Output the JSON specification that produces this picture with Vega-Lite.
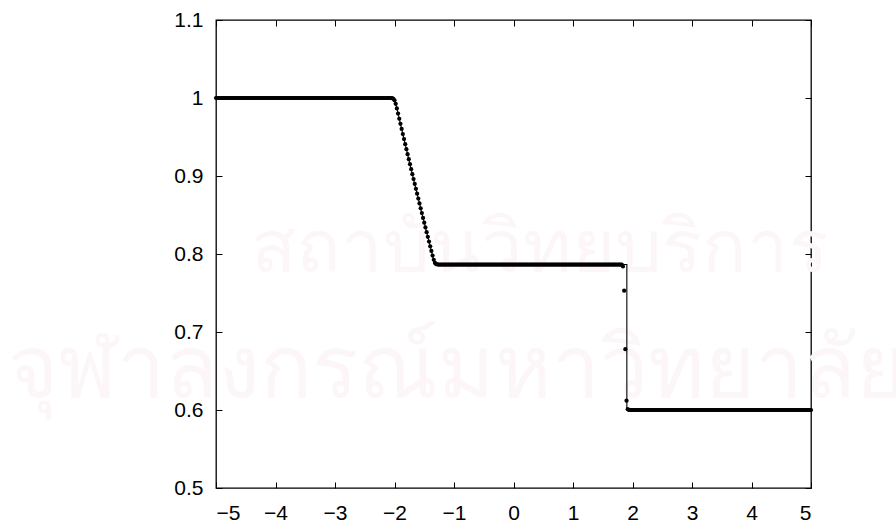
{
"$schema":"https://vega.github.io/schema/vega-lite/v6.json",
"width":595,"height":468,
"autosize":{"type":"none"},
"padding":{"left":216,"top":20,"right":85,"bottom":40},
"background":"white",
"config":{"view":{"stroke":"black","strokeWidth":1.3},
"axis":{"domain":false,"grid":false,"tickColor":"black","tickWidth":1,"tickSize":-6,"labelFont":"Liberation Sans","labelFontSize":21,"labelColor":"black","title":null}},
"datasets":{
"exact":[{"i":0,"x":-5,"y":1},{"i":1,"x":-2,"y":1},{"i":2,"x":-1.9,"y":0.9669},{"i":3,"x":-1.8,"y":0.9344},{"i":4,"x":-1.7,"y":0.9024},{"i":5,"x":-1.6,"y":0.871},{"i":6,"x":-1.5,"y":0.8402},{"i":7,"x":-1.4,"y":0.8099},{"i":8,"x":-1.322,"y":0.7865},{"i":9,"x":1.905,"y":0.7865},{"i":10,"x":1.905,"y":0.6},{"i":11,"x":5,"y":0.6}],
"num":[
{"x":-5,"y":1},{"x":-4.98,"y":1},{"x":-4.96,"y":1},{"x":-4.94,"y":1},{"x":-4.92,"y":1},{"x":-4.9,"y":1},{"x":-4.88,"y":1},{"x":-4.86,"y":1},{"x":-4.84,"y":1},{"x":-4.82,"y":1},
{"x":-4.8,"y":1},{"x":-4.78,"y":1},{"x":-4.76,"y":1},{"x":-4.74,"y":1},{"x":-4.72,"y":1},{"x":-4.7,"y":1},{"x":-4.68,"y":1},{"x":-4.66,"y":1},{"x":-4.64,"y":1},{"x":-4.62,"y":1},
{"x":-4.6,"y":1},{"x":-4.58,"y":1},{"x":-4.56,"y":1},{"x":-4.54,"y":1},{"x":-4.52,"y":1},{"x":-4.5,"y":1},{"x":-4.48,"y":1},{"x":-4.46,"y":1},{"x":-4.44,"y":1},{"x":-4.42,"y":1},
{"x":-4.4,"y":1},{"x":-4.38,"y":1},{"x":-4.36,"y":1},{"x":-4.34,"y":1},{"x":-4.32,"y":1},{"x":-4.3,"y":1},{"x":-4.28,"y":1},{"x":-4.26,"y":1},{"x":-4.24,"y":1},{"x":-4.22,"y":1},
{"x":-4.2,"y":1},{"x":-4.18,"y":1},{"x":-4.16,"y":1},{"x":-4.14,"y":1},{"x":-4.12,"y":1},{"x":-4.1,"y":1},{"x":-4.08,"y":1},{"x":-4.06,"y":1},{"x":-4.04,"y":1},{"x":-4.02,"y":1},
{"x":-4,"y":1},{"x":-3.98,"y":1},{"x":-3.96,"y":1},{"x":-3.94,"y":1},{"x":-3.92,"y":1},{"x":-3.9,"y":1},{"x":-3.88,"y":1},{"x":-3.86,"y":1},{"x":-3.84,"y":1},{"x":-3.82,"y":1},
{"x":-3.8,"y":1},{"x":-3.78,"y":1},{"x":-3.76,"y":1},{"x":-3.74,"y":1},{"x":-3.72,"y":1},{"x":-3.7,"y":1},{"x":-3.68,"y":1},{"x":-3.66,"y":1},{"x":-3.64,"y":1},{"x":-3.62,"y":1},
{"x":-3.6,"y":1},{"x":-3.58,"y":1},{"x":-3.56,"y":1},{"x":-3.54,"y":1},{"x":-3.52,"y":1},{"x":-3.5,"y":1},{"x":-3.48,"y":1},{"x":-3.46,"y":1},{"x":-3.44,"y":1},{"x":-3.42,"y":1},
{"x":-3.4,"y":1},{"x":-3.38,"y":1},{"x":-3.36,"y":1},{"x":-3.34,"y":1},{"x":-3.32,"y":1},{"x":-3.3,"y":1},{"x":-3.28,"y":1},{"x":-3.26,"y":1},{"x":-3.24,"y":1},{"x":-3.22,"y":1},
{"x":-3.2,"y":1},{"x":-3.18,"y":1},{"x":-3.16,"y":1},{"x":-3.14,"y":1},{"x":-3.12,"y":1},{"x":-3.1,"y":1},{"x":-3.08,"y":1},{"x":-3.06,"y":1},{"x":-3.04,"y":1},{"x":-3.02,"y":1},
{"x":-3,"y":1},{"x":-2.98,"y":1},{"x":-2.96,"y":1},{"x":-2.94,"y":1},{"x":-2.92,"y":1},{"x":-2.9,"y":1},{"x":-2.88,"y":1},{"x":-2.86,"y":1},{"x":-2.84,"y":1},{"x":-2.82,"y":1},
{"x":-2.8,"y":1},{"x":-2.78,"y":1},{"x":-2.76,"y":1},{"x":-2.74,"y":1},{"x":-2.72,"y":1},{"x":-2.7,"y":1},{"x":-2.68,"y":1},{"x":-2.66,"y":1},{"x":-2.64,"y":1},{"x":-2.62,"y":1},
{"x":-2.6,"y":1},{"x":-2.58,"y":1},{"x":-2.56,"y":1},{"x":-2.54,"y":1},{"x":-2.52,"y":1},{"x":-2.5,"y":1},{"x":-2.48,"y":1},{"x":-2.46,"y":1},{"x":-2.44,"y":1},{"x":-2.42,"y":1},
{"x":-2.4,"y":1},{"x":-2.38,"y":1},{"x":-2.36,"y":1},{"x":-2.34,"y":1},{"x":-2.32,"y":1},{"x":-2.3,"y":1},{"x":-2.28,"y":1},{"x":-2.26,"y":1},{"x":-2.24,"y":1},{"x":-2.22,"y":1},
{"x":-2.2,"y":1},{"x":-2.18,"y":1},{"x":-2.16,"y":1},{"x":-2.14,"y":1},{"x":-2.12,"y":1},{"x":-2.1,"y":1},{"x":-2.08,"y":1},{"x":-2.06,"y":1},{"x":-2.04,"y":0.9998},{"x":-2.02,"y":0.999},
{"x":-2,"y":0.997},{"x":-1.98,"y":0.9925},{"x":-1.96,"y":0.9866},{"x":-1.94,"y":0.98},{"x":-1.92,"y":0.9734},{"x":-1.9,"y":0.9669},{"x":-1.88,"y":0.9603},{"x":-1.86,"y":0.9538},{"x":-1.84,"y":0.9473},{"x":-1.82,"y":0.9408},
{"x":-1.8,"y":0.9344},{"x":-1.78,"y":0.9279},{"x":-1.76,"y":0.9215},{"x":-1.74,"y":0.9151},{"x":-1.72,"y":0.9088},{"x":-1.7,"y":0.9024},{"x":-1.68,"y":0.8961},{"x":-1.66,"y":0.8898},{"x":-1.64,"y":0.8835},{"x":-1.62,"y":0.8773},
{"x":-1.6,"y":0.871},{"x":-1.58,"y":0.8648},{"x":-1.56,"y":0.8586},{"x":-1.54,"y":0.8525},{"x":-1.52,"y":0.8463},{"x":-1.5,"y":0.8402},{"x":-1.48,"y":0.8341},{"x":-1.46,"y":0.828},{"x":-1.44,"y":0.822},{"x":-1.42,"y":0.8159},
{"x":-1.4,"y":0.8099},{"x":-1.38,"y":0.8039},{"x":-1.36,"y":0.798},{"x":-1.34,"y":0.7925},{"x":-1.32,"y":0.7885},{"x":-1.3,"y":0.787},{"x":-1.28,"y":0.7866},{"x":-1.26,"y":0.7865},{"x":-1.24,"y":0.7865},{"x":-1.22,"y":0.7865},
{"x":-1.2,"y":0.7865},{"x":-1.18,"y":0.7865},{"x":-1.16,"y":0.7865},{"x":-1.14,"y":0.7865},{"x":-1.12,"y":0.7865},{"x":-1.1,"y":0.7865},{"x":-1.08,"y":0.7865},{"x":-1.06,"y":0.7865},{"x":-1.04,"y":0.7865},{"x":-1.02,"y":0.7865},
{"x":-1,"y":0.7865},{"x":-0.98,"y":0.7865},{"x":-0.96,"y":0.7865},{"x":-0.94,"y":0.7865},{"x":-0.92,"y":0.7865},{"x":-0.9,"y":0.7865},{"x":-0.88,"y":0.7865},{"x":-0.86,"y":0.7865},{"x":-0.84,"y":0.7865},{"x":-0.82,"y":0.7865},
{"x":-0.8,"y":0.7865},{"x":-0.78,"y":0.7865},{"x":-0.76,"y":0.7865},{"x":-0.74,"y":0.7865},{"x":-0.72,"y":0.7865},{"x":-0.7,"y":0.7865},{"x":-0.68,"y":0.7865},{"x":-0.66,"y":0.7865},{"x":-0.64,"y":0.7865},{"x":-0.62,"y":0.7865},
{"x":-0.6,"y":0.7865},{"x":-0.58,"y":0.7865},{"x":-0.56,"y":0.7865},{"x":-0.54,"y":0.7865},{"x":-0.52,"y":0.7865},{"x":-0.5,"y":0.7865},{"x":-0.48,"y":0.7865},{"x":-0.46,"y":0.7865},{"x":-0.44,"y":0.7865},{"x":-0.42,"y":0.7865},
{"x":-0.4,"y":0.7865},{"x":-0.38,"y":0.7865},{"x":-0.36,"y":0.7865},{"x":-0.34,"y":0.7865},{"x":-0.32,"y":0.7865},{"x":-0.3,"y":0.7865},{"x":-0.28,"y":0.7865},{"x":-0.26,"y":0.7865},{"x":-0.24,"y":0.7865},{"x":-0.22,"y":0.7865},
{"x":-0.2,"y":0.7865},{"x":-0.18,"y":0.7865},{"x":-0.16,"y":0.7865},{"x":-0.14,"y":0.7865},{"x":-0.12,"y":0.7865},{"x":-0.1,"y":0.7865},{"x":-0.08,"y":0.7865},{"x":-0.06,"y":0.7865},{"x":-0.04,"y":0.7865},{"x":-0.02,"y":0.7865},
{"x":0,"y":0.7865},{"x":0.02,"y":0.7865},{"x":0.04,"y":0.7865},{"x":0.06,"y":0.7865},{"x":0.08,"y":0.7865},{"x":0.1,"y":0.7865},{"x":0.12,"y":0.7865},{"x":0.14,"y":0.7865},{"x":0.16,"y":0.7865},{"x":0.18,"y":0.7865},
{"x":0.2,"y":0.7865},{"x":0.22,"y":0.7865},{"x":0.24,"y":0.7865},{"x":0.26,"y":0.7865},{"x":0.28,"y":0.7865},{"x":0.3,"y":0.7865},{"x":0.32,"y":0.7865},{"x":0.34,"y":0.7865},{"x":0.36,"y":0.7865},{"x":0.38,"y":0.7865},
{"x":0.4,"y":0.7865},{"x":0.42,"y":0.7865},{"x":0.44,"y":0.7865},{"x":0.46,"y":0.7865},{"x":0.48,"y":0.7865},{"x":0.5,"y":0.7865},{"x":0.52,"y":0.7865},{"x":0.54,"y":0.7865},{"x":0.56,"y":0.7865},{"x":0.58,"y":0.7865},
{"x":0.6,"y":0.7865},{"x":0.62,"y":0.7865},{"x":0.64,"y":0.7865},{"x":0.66,"y":0.7865},{"x":0.68,"y":0.7865},{"x":0.7,"y":0.7865},{"x":0.72,"y":0.7865},{"x":0.74,"y":0.7865},{"x":0.76,"y":0.7865},{"x":0.78,"y":0.7865},
{"x":0.8,"y":0.7865},{"x":0.82,"y":0.7865},{"x":0.84,"y":0.7865},{"x":0.86,"y":0.7865},{"x":0.88,"y":0.7865},{"x":0.9,"y":0.7865},{"x":0.92,"y":0.7865},{"x":0.94,"y":0.7865},{"x":0.96,"y":0.7865},{"x":0.98,"y":0.7865},
{"x":1,"y":0.7865},{"x":1.02,"y":0.7865},{"x":1.04,"y":0.7865},{"x":1.06,"y":0.7865},{"x":1.08,"y":0.7865},{"x":1.1,"y":0.7865},{"x":1.12,"y":0.7865},{"x":1.14,"y":0.7865},{"x":1.16,"y":0.7865},{"x":1.18,"y":0.7865},
{"x":1.2,"y":0.7865},{"x":1.22,"y":0.7865},{"x":1.24,"y":0.7865},{"x":1.26,"y":0.7865},{"x":1.28,"y":0.7865},{"x":1.3,"y":0.7865},{"x":1.32,"y":0.7865},{"x":1.34,"y":0.7865},{"x":1.36,"y":0.7865},{"x":1.38,"y":0.7865},
{"x":1.4,"y":0.7865},{"x":1.42,"y":0.7865},{"x":1.44,"y":0.7865},{"x":1.46,"y":0.7865},{"x":1.48,"y":0.7865},{"x":1.5,"y":0.7865},{"x":1.52,"y":0.7865},{"x":1.54,"y":0.7865},{"x":1.56,"y":0.7865},{"x":1.58,"y":0.7865},
{"x":1.6,"y":0.7865},{"x":1.62,"y":0.7865},{"x":1.64,"y":0.7865},{"x":1.66,"y":0.7865},{"x":1.68,"y":0.7865},{"x":1.7,"y":0.7865},{"x":1.72,"y":0.7865},{"x":1.74,"y":0.7865},{"x":1.76,"y":0.7865},{"x":1.78,"y":0.7865},
{"x":1.8,"y":0.7865},{"x":1.82,"y":0.7864},{"x":1.84,"y":0.784},{"x":1.86,"y":0.753},{"x":1.88,"y":0.678},{"x":1.9,"y":0.612},{"x":1.92,"y":0.601},{"x":1.94,"y":0.6},{"x":1.96,"y":0.6},{"x":1.98,"y":0.6},
{"x":2,"y":0.6},{"x":2.02,"y":0.6},{"x":2.04,"y":0.6},{"x":2.06,"y":0.6},{"x":2.08,"y":0.6},{"x":2.1,"y":0.6},{"x":2.12,"y":0.6},{"x":2.14,"y":0.6},{"x":2.16,"y":0.6},{"x":2.18,"y":0.6},
{"x":2.2,"y":0.6},{"x":2.22,"y":0.6},{"x":2.24,"y":0.6},{"x":2.26,"y":0.6},{"x":2.28,"y":0.6},{"x":2.3,"y":0.6},{"x":2.32,"y":0.6},{"x":2.34,"y":0.6},{"x":2.36,"y":0.6},{"x":2.38,"y":0.6},
{"x":2.4,"y":0.6},{"x":2.42,"y":0.6},{"x":2.44,"y":0.6},{"x":2.46,"y":0.6},{"x":2.48,"y":0.6},{"x":2.5,"y":0.6},{"x":2.52,"y":0.6},{"x":2.54,"y":0.6},{"x":2.56,"y":0.6},{"x":2.58,"y":0.6},
{"x":2.6,"y":0.6},{"x":2.62,"y":0.6},{"x":2.64,"y":0.6},{"x":2.66,"y":0.6},{"x":2.68,"y":0.6},{"x":2.7,"y":0.6},{"x":2.72,"y":0.6},{"x":2.74,"y":0.6},{"x":2.76,"y":0.6},{"x":2.78,"y":0.6},
{"x":2.8,"y":0.6},{"x":2.82,"y":0.6},{"x":2.84,"y":0.6},{"x":2.86,"y":0.6},{"x":2.88,"y":0.6},{"x":2.9,"y":0.6},{"x":2.92,"y":0.6},{"x":2.94,"y":0.6},{"x":2.96,"y":0.6},{"x":2.98,"y":0.6},
{"x":3,"y":0.6},{"x":3.02,"y":0.6},{"x":3.04,"y":0.6},{"x":3.06,"y":0.6},{"x":3.08,"y":0.6},{"x":3.1,"y":0.6},{"x":3.12,"y":0.6},{"x":3.14,"y":0.6},{"x":3.16,"y":0.6},{"x":3.18,"y":0.6},
{"x":3.2,"y":0.6},{"x":3.22,"y":0.6},{"x":3.24,"y":0.6},{"x":3.26,"y":0.6},{"x":3.28,"y":0.6},{"x":3.3,"y":0.6},{"x":3.32,"y":0.6},{"x":3.34,"y":0.6},{"x":3.36,"y":0.6},{"x":3.38,"y":0.6},
{"x":3.4,"y":0.6},{"x":3.42,"y":0.6},{"x":3.44,"y":0.6},{"x":3.46,"y":0.6},{"x":3.48,"y":0.6},{"x":3.5,"y":0.6},{"x":3.52,"y":0.6},{"x":3.54,"y":0.6},{"x":3.56,"y":0.6},{"x":3.58,"y":0.6},
{"x":3.6,"y":0.6},{"x":3.62,"y":0.6},{"x":3.64,"y":0.6},{"x":3.66,"y":0.6},{"x":3.68,"y":0.6},{"x":3.7,"y":0.6},{"x":3.72,"y":0.6},{"x":3.74,"y":0.6},{"x":3.76,"y":0.6},{"x":3.78,"y":0.6},
{"x":3.8,"y":0.6},{"x":3.82,"y":0.6},{"x":3.84,"y":0.6},{"x":3.86,"y":0.6},{"x":3.88,"y":0.6},{"x":3.9,"y":0.6},{"x":3.92,"y":0.6},{"x":3.94,"y":0.6},{"x":3.96,"y":0.6},{"x":3.98,"y":0.6},
{"x":4,"y":0.6},{"x":4.02,"y":0.6},{"x":4.04,"y":0.6},{"x":4.06,"y":0.6},{"x":4.08,"y":0.6},{"x":4.1,"y":0.6},{"x":4.12,"y":0.6},{"x":4.14,"y":0.6},{"x":4.16,"y":0.6},{"x":4.18,"y":0.6},
{"x":4.2,"y":0.6},{"x":4.22,"y":0.6},{"x":4.24,"y":0.6},{"x":4.26,"y":0.6},{"x":4.28,"y":0.6},{"x":4.3,"y":0.6},{"x":4.32,"y":0.6},{"x":4.34,"y":0.6},{"x":4.36,"y":0.6},{"x":4.38,"y":0.6},
{"x":4.4,"y":0.6},{"x":4.42,"y":0.6},{"x":4.44,"y":0.6},{"x":4.46,"y":0.6},{"x":4.48,"y":0.6},{"x":4.5,"y":0.6},{"x":4.52,"y":0.6},{"x":4.54,"y":0.6},{"x":4.56,"y":0.6},{"x":4.58,"y":0.6},
{"x":4.6,"y":0.6},{"x":4.62,"y":0.6},{"x":4.64,"y":0.6},{"x":4.66,"y":0.6},{"x":4.68,"y":0.6},{"x":4.7,"y":0.6},{"x":4.72,"y":0.6},{"x":4.74,"y":0.6},{"x":4.76,"y":0.6},{"x":4.78,"y":0.6},
{"x":4.8,"y":0.6},{"x":4.82,"y":0.6},{"x":4.84,"y":0.6},{"x":4.86,"y":0.6},{"x":4.88,"y":0.6},{"x":4.9,"y":0.6},{"x":4.92,"y":0.6},{"x":4.94,"y":0.6},{"x":4.96,"y":0.6},{"x":4.98,"y":0.6},
{"x":5,"y":0.6}
]},
"layer":[
{"data":{"values":[{"t":"สถาบันวิทยบริการ"}]},
 "mark":{"type":"text","fontSize":74,"font":"Noto Sans","color":"#fcf6f9","align":"center","baseline":"middle"},
 "encoding":{"x":{"datum":0.45,"type":"quantitative","axis":null},"y":{"datum":0.805,"type":"quantitative","axis":null},"text":{"field":"t"}}},
{"data":{"values":[{"t":"จุฬาลงกรณ์มหาวิทยาลัย"}]},
 "mark":{"type":"text","fontSize":86,"font":"Noto Sans","color":"#fcf6f9","align":"center","baseline":"middle"},
 "encoding":{"x":{"datum":-0.95,"type":"quantitative","axis":null},"y":{"datum":0.65,"type":"quantitative","axis":null},"text":{"field":"t"}}},
{"data":{"name":"exact"},
 "mark":{"type":"line","color":"black","strokeWidth":1.1},
 "encoding":{
  "x":{"field":"x","type":"quantitative","scale":{"domain":[-5,5],"nice":false,"zero":false},"axis":{"orient":"top","labels":false,"values":[-5,-4,-3,-2,-1,0,1,2,3,4,5]}},
  "y":{"field":"y","type":"quantitative","scale":{"domain":[0.5,1.1],"nice":false,"zero":false},"axis":{"orient":"right","labels":false,"values":[0.5,0.6,0.7,0.8,0.9,1,1.1]}},
  "order":{"field":"i","type":"quantitative"}}},
{"data":{"name":"num"},
 "mark":{"type":"point","filled":true,"color":"black","size":18,"opacity":1},
 "encoding":{
  "x":{"field":"x","type":"quantitative","axis":{"orient":"bottom","values":[-5,-4,-3,-2,-1,0,1,2,3,4,5],"labelPadding":20,"format":"d"}},
  "y":{"field":"y","type":"quantitative","axis":{"orient":"left","values":[0.5,0.6,0.7,0.8,0.9,1,1.1],"labelPadding":19,"format":"~g"}}}}
],
"resolve":{"axis":{"x":"independent","y":"independent"}}
}
